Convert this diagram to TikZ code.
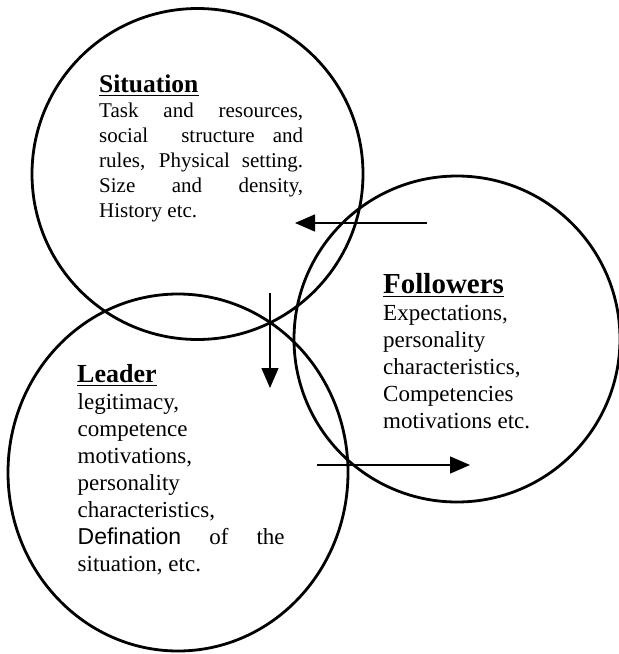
\documentclass[tikz,border=0pt]{standalone}
\usepackage{fontspec}
\setmainfont{Liberation Serif}
\newfontfamily\altsans{Liberation Sans}
\usetikzlibrary{arrows.meta,shapes.geometric}
\begin{document}
\begin{tikzpicture}[x=1pt,y=-1pt,
  ring/.style={draw,line width=2.8pt,inner sep=0pt,outer sep=0pt},
  flow/.style={line width=1.3pt,-{Triangle[length=20pt,width=17pt]}},
  heading/.style={anchor=base west,inner sep=0pt,font=\fontsize{25.5}{30}\selectfont\bfseries},
  txt/.style={anchor=base west,inner sep=0pt},
  uline/.style={line width=1.8pt}
]
\useasboundingbox[fill=white] (0,0) rectangle (619,654);

% circles
\node[ring,circle,minimum size=331pt] (situation) at (197.5,174) {};
\node[ring,ellipse,minimum width=340pt,minimum height=357pt] (leader) at (178,472.5) {};
\node[ring,circle,minimum size=326pt] (followers) at (457,339) {};

% Situation text
\node[heading] (sittitle) at (99,92) {Situation};
\draw[uline] ([yshift=-3.5pt]sittitle.base west) -- ([yshift=-3.5pt]sittitle.base east);
\node[txt] (sitbody) at (99,117.5) {\begin{minipage}[t]{204pt}\fontsize{21}{25}\selectfont
\makebox[204pt][s]{Task and resources,}\\
\makebox[204pt][s]{social\hspace{15pt} structure and}\\
\makebox[204pt][s]{rules, Physical setting.}\\
\makebox[204pt][s]{Size and density,}\\
History etc.\end{minipage}};

% Leader text
\node[heading,font=\fontsize{26}{30}\selectfont\bfseries] (leadtitle) at (77,382) {Leader};
\draw[uline] ([yshift=-3.5pt]leadtitle.base west) -- ([yshift=-3.5pt]leadtitle.base east);
\node[txt] (leadbody) at (77.5,409) {\begin{minipage}[t]{207pt}\fontsize{23}{27}\selectfont
legitimacy,\\
competence\\
motivations,\\
personality\\
characteristics,\\
\makebox[207pt][s]{{\altsans Defination} of the}\\
situation, etc.\end{minipage}};

% Followers text
\node[heading,font=\fontsize{29}{33}\selectfont\bfseries] (foltitle) at (383,293) {Followers};
\draw[uline] ([yshift=-3.5pt]foltitle.base west) -- ([yshift=-3.5pt]foltitle.base east);
\node[txt] (folbody) at (383,320) {\begin{minipage}[t]{200pt}\fontsize{23}{27}\selectfont
Expectations,\\
personality\\
characteristics,\\
Competencies\\
motivations etc.\end{minipage}};

% arrows
\coordinate (a1s) at (427,223);
\coordinate (a1e) at (295,223);
\coordinate (a2s) at (270,293);
\coordinate (a2e) at (270,388);
\coordinate (a3s) at (317,465);
\coordinate (a3e) at (470,465);
\draw[flow] (a1s) -- (a1e);
\draw[flow] (a2s) -- (a2e);
\draw[flow] (a3s) -- (a3e);
\end{tikzpicture}
\end{document}
